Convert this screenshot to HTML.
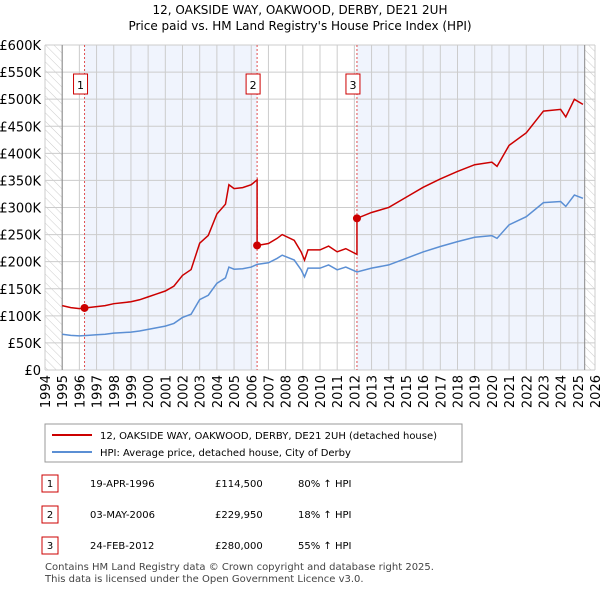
<!DOCTYPE html>
<html><head><meta charset="utf-8"><style>
body{margin:0;background:#fff;font-family:"Liberation Sans","DejaVu Sans",sans-serif;}
svg text{font-family:"DejaVu Sans","Liberation Sans",sans-serif;}
</style></head><body>
<svg id="c" width="600" height="590" xmlns="http://www.w3.org/2000/svg">
<defs><pattern id="hatch" width="6" height="6" patternUnits="userSpaceOnUse" patternTransform="rotate(-45)"><line x1="0" y1="0" x2="0" y2="6" stroke="#ccc" stroke-width="1"/></pattern></defs>
<text x="300" y="14" text-anchor="middle" font-size="12">12, OAKSIDE WAY, OAKWOOD, DERBY, DE21 2UH</text>
<text x="300" y="30" text-anchor="middle" font-size="12">Price paid vs. HM Land Registry's House Price Index (HPI)</text>
<g id="plot"></g>
<rect x="45" y="424" width="417" height="38" fill="#fff" stroke="#999"/>
<line x1="52" y1="435" x2="92" y2="435" stroke="#cc0000" stroke-width="2"/>
<text x="100" y="439" font-size="10">12, OAKSIDE WAY, OAKWOOD, DERBY, DE21 2UH (detached house)</text>
<line x1="52" y1="452" x2="92" y2="452" stroke="#5b8fd4" stroke-width="2"/>
<text x="100" y="456" font-size="10">HPI: Average price, detached house, City of Derby</text>
<g font-size="10">
<rect x="42" y="475" width="16" height="17" fill="#fff" stroke="#cc0000"/><text x="50" y="487" text-anchor="middle">1</text>
<text x="90" y="487">19-APR-1996</text><text x="215" y="487">£114,500</text><text x="298" y="487">80% ↑ HPI</text>
<rect x="42" y="506" width="16" height="17" fill="#fff" stroke="#cc0000"/><text x="50" y="518" text-anchor="middle">2</text>
<text x="90" y="518">03-MAY-2006</text><text x="215" y="518">£229,950</text><text x="298" y="518">18% ↑ HPI</text>
<rect x="42" y="537" width="16" height="17" fill="#fff" stroke="#cc0000"/><text x="50" y="549" text-anchor="middle">3</text>
<text x="90" y="549">24-FEB-2012</text><text x="215" y="549">£280,000</text><text x="298" y="549">55% ↑ HPI</text>
</g>
<text x="45" y="570" font-size="10" fill="#444">Contains HM Land Registry data © Crown copyright and database right 2025.</text>
<text x="45" y="582" font-size="10" fill="#444">This data is licensed under the Open Government Licence v3.0.</text>
</svg>
<script>
const years=[1995,1995.5,1996,1996.5,1997,1997.5,1998,1998.5,1999,1999.5,2000,2000.5,2001,2001.5,2002,2002.5,2003,2003.5,2004,2004.5,2004.7,2005,2005.5,2006,2006.34,2007,2007.5,2007.8,2008.5,2008.9,2009.1,2009.3,2010,2010.5,2011,2011.5,2012.15,2013,2014,2015,2016,2017,2018,2019,2020,2020.3,2021,2022,2023,2024,2024.3,2024.8,2025.3];
const hpi=[66,64,63,64,65,66,68,69,70,72,75,78,81,86,97,103,130,138,160,170,190,186,187,190,195,198,206,212,203,185,172,188,188,194,185,190,181,188,194,206,218,228,237,245,248,243,268,283,309,311,302,323,317];
const saleYears=[1996.3,2006.34,2012.15];
const salePrices=[114.5,229.95,280];
const yTicks=[0,50,100,150,200,250,300,350,400,450,500,550,600];
const xTicks=[1994,1995,1996,1997,1998,1999,2000,2001,2002,2003,2004,2005,2006,2007,2008,2009,2010,2011,2012,2013,2014,2015,2016,2017,2018,2019,2020,2021,2022,2023,2024,2025,2026];
const X0=45,X1=595,Y0=370,Y1=45;
const xs=y=>X0+(y-1994)/32*(X1-X0);
const ys=v=>Y0-v/600*(Y0-Y1);
const NS="http://www.w3.org/2000/svg";
const g=document.getElementById('plot');
function mk(t,a){const e=document.createElementNS(NS,t);for(const k in a)e.setAttribute(k,a[k]);g.appendChild(e);return e;}
function hpiAt(t){for(let i=1;i<years.length;i++){if(t<=years[i]){const f=(t-years[i-1])/(years[i]-years[i-1]);return hpi[i-1]+f*(hpi[i]-hpi[i-1]);}}return hpi[hpi.length-1];}
let e;
e=mk('rect',{x:X0,y:Y1,width:X1-X0,height:Y0-Y1,fill:'#fff'});


e=mk('rect',{x:xs(saleYears[0]),y:Y1,width:xs(saleYears[1])-xs(saleYears[0]),height:Y0-Y1,fill:'#f0f4fd'});


e=mk('rect',{x:xs(saleYears[2]),y:Y1,width:xs(2025.4)-xs(saleYears[2]),height:Y0-Y1,fill:'#f0f4fd'});


e=mk('rect',{x:X0,y:Y1,width:xs(1995)-X0,height:Y0-Y1,fill:'url(#hatch)'});


e=mk('rect',{x:xs(2025.4),y:Y1,width:X1-xs(2025.4),height:Y0-Y1,fill:'url(#hatch)'});


yTicks.forEach(v=>{
 e=mk('line',{x1:X0,x2:X1,y1:ys(v),y2:ys(v),stroke:'#ccc'});
 
 
 e=mk('text',{x:X0-4,y:ys(v)+5,'text-anchor':'end','font-size':13});
 e.textContent=v===0?'£0':'£'+v+'K';
 
 
});
xTicks.forEach(y=>{
 e=mk('line',{x1:xs(y),x2:xs(y),y1:Y1,y2:Y0,stroke:'#ccc'});
 
 
 e=mk('text',{transform:`translate(${xs(y)+5},${Y0+5}) rotate(-90)`,'text-anchor':'end','font-size':13});
 e.textContent=y;
 
 
});
[1995,2025.4].forEach(y=>{mk('line',{x1:xs(y),x2:xs(y),y1:Y1,y2:Y0,stroke:'#888'});});
saleYears.forEach((s,i)=>{
 e=mk('line',{x1:xs(s),x2:xs(s),y1:Y1,y2:Y0,stroke:'#e05050','stroke-dasharray':'2,2'});
 
 
 e=mk('rect',{x:xs(s)-11,y:74,width:14,height:20,fill:'#fff',stroke:'#cc0000'});
 
 
 e=mk('text',{x:xs(s)-4,y:89,'text-anchor':'middle','font-size':11});
 e.textContent=String(i+1);
 
 
});
e=mk('polyline',{points:years.map((y,i)=>xs(y)+','+ys(hpi[i])).join(' '),fill:'none',stroke:'#5b8fd4','stroke-width':1.5});


const factors=saleYears.map((s,i)=>salePrices[i]/hpiAt(s));
let pts=[];
years.forEach((y,i)=>{
 let k=0;for(let j=0;j<saleYears.length;j++)if(y>=saleYears[j])k=j;
 saleYears.forEach((s,j)=>{if(j>0&&i>0&&years[i-1]<s&&y>=s){pts.push([s,hpiAt(s)*factors[j-1]]);pts.push([s,salePrices[j]]);}});
 pts.push([y,hpi[i]*factors[k]]);
});
e=mk('polyline',{points:pts.map(p=>xs(p[0])+','+ys(p[1])).join(' '),fill:'none',stroke:'#cc0000','stroke-width':1.5});


saleYears.forEach((s,i)=>{
 e=mk('circle',{cx:xs(s),cy:ys(salePrices[i]),r:4,fill:'#cc0000'});
 
 
});
</script>
</body></html>
